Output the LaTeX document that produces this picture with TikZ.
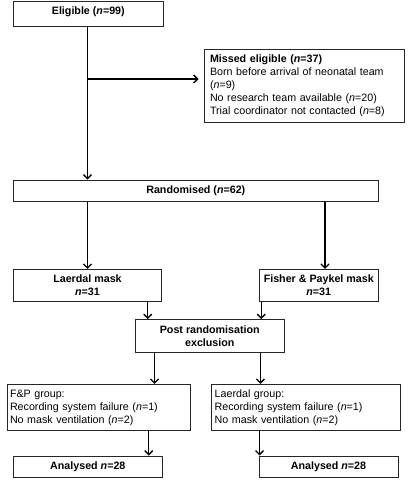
\documentclass[tikz,border=0pt]{standalone}
\usepackage{fontspec}
\setmainfont{Liberation Sans}
\usetikzlibrary{arrows.meta}
\begin{document}
\begin{tikzpicture}[x=1pt,y=-1pt,
  box/.style={draw=black!85,line width=0.9pt,inner sep=3pt,font=\fontsize{10.7}{13}\selectfont},
  cbox/.style={box,align=center},
  arr/.style={line width=1.4pt,-{Straight Barb[length=4pt,width=8pt,line width=1.3pt]}}]
\useasboundingbox (0,0) rectangle (409,483);
\fill[white] (0,0) rectangle (409,483);
\node[cbox,minimum width=150pt,minimum height=25.5pt,text depth=7pt] (elig) at (88.3,14) {\textbf{Eligible (\textit{n}=99)}};
\node[box,minimum width=200pt,minimum height=73pt,align=left,text width=188pt,inner xsep=6pt] (miss) at (304,85.5)
  {\textbf{Missed eligible (\textit{n}=37)}\\Born before arrival of neonatal team\\(\textit{n}=9)\\No research team available (\textit{n}=20)\\Trial coordinator not contacted (\textit{n}=8)};
\node[cbox,minimum width=365pt,minimum height=21.7pt] (rand) at (195.8,190.8) {\textbf{Randomised (\textit{n}=62)}};
\node[cbox,minimum width=148.4pt,minimum height=32.4pt] (lm) at (87.5,285.5) {\textbf{Laerdal mask}\\\textbf{\textit{n}=31}};
\node[cbox,minimum width=119pt,minimum height=32.4pt] (fm) at (318.8,285.5) {\textbf{Fisher \& Paykel mask}\\\textbf{\textit{n}=31}};
\node[cbox,minimum width=148.3pt,minimum height=33pt] (post) at (209.8,336) {\textbf{Post randomisation}\\\textbf{exclusion}};
\node[box,minimum width=183.4pt,minimum height=46.4pt,align=left,text width=178pt,inner xsep=2.7pt] (fg) at (99,407.5)
  {F\&P group:\\Recording system failure (\textit{n}=1)\\No mask ventilation (\textit{n}=2)};
\node[box,minimum width=189pt,minimum height=46.4pt,align=left,text width=183pt,inner xsep=3pt] (lg) at (306.2,407.5)
  {Laerdal group:\\Recording system failure (\textit{n}=1)\\No mask ventilation (\textit{n}=2)};
\node[cbox,minimum width=149pt,minimum height=21.5pt] (an1) at (87.8,466.7) {\textbf{Analysed \textit{n}=28}};
\node[cbox,minimum width=139pt,minimum height=21.5pt] (an2) at (328.5,466.7) {\textbf{Analysed \textit{n}=28}};
\coordinate (br) at (87.5,79);
\draw[arr] ([xshift=-0.8pt]elig.south) -- ([xshift=-0.8pt]elig.south |- rand.north);
\draw[arr,shorten >=5pt] (br) -- (miss.west |- br);
\draw[arr] (lm.north |- rand.south) -- (lm.north);
\draw[arr] ([xshift=6.2pt]fm.north |- rand.south) -- ([xshift=6.2pt]fm.north);
\draw[arr] ([xshift=-14.4pt]lm.south east) -- ([xshift=-14.4pt]lm.south east |- post.north);
\draw[arr] ([xshift=2.4pt]fm.south west) -- ([xshift=2.4pt]fm.south west |- post.north);
\draw[arr] ([xshift=19.3pt]post.south west) -- ([xshift=19.3pt]post.south west |- fg.north);
\draw[arr] ([xshift=-24pt]post.south east) -- ([xshift=-24pt]post.south east |- lg.north);
\draw[arr] ([xshift=-14pt]an1.north east |- fg.south) -- ([xshift=-14pt]an1.north east);
\draw[arr] ([xshift=1pt]an2.north west |- lg.south) -- ([xshift=1pt]an2.north west);
\end{tikzpicture}
\end{document}
